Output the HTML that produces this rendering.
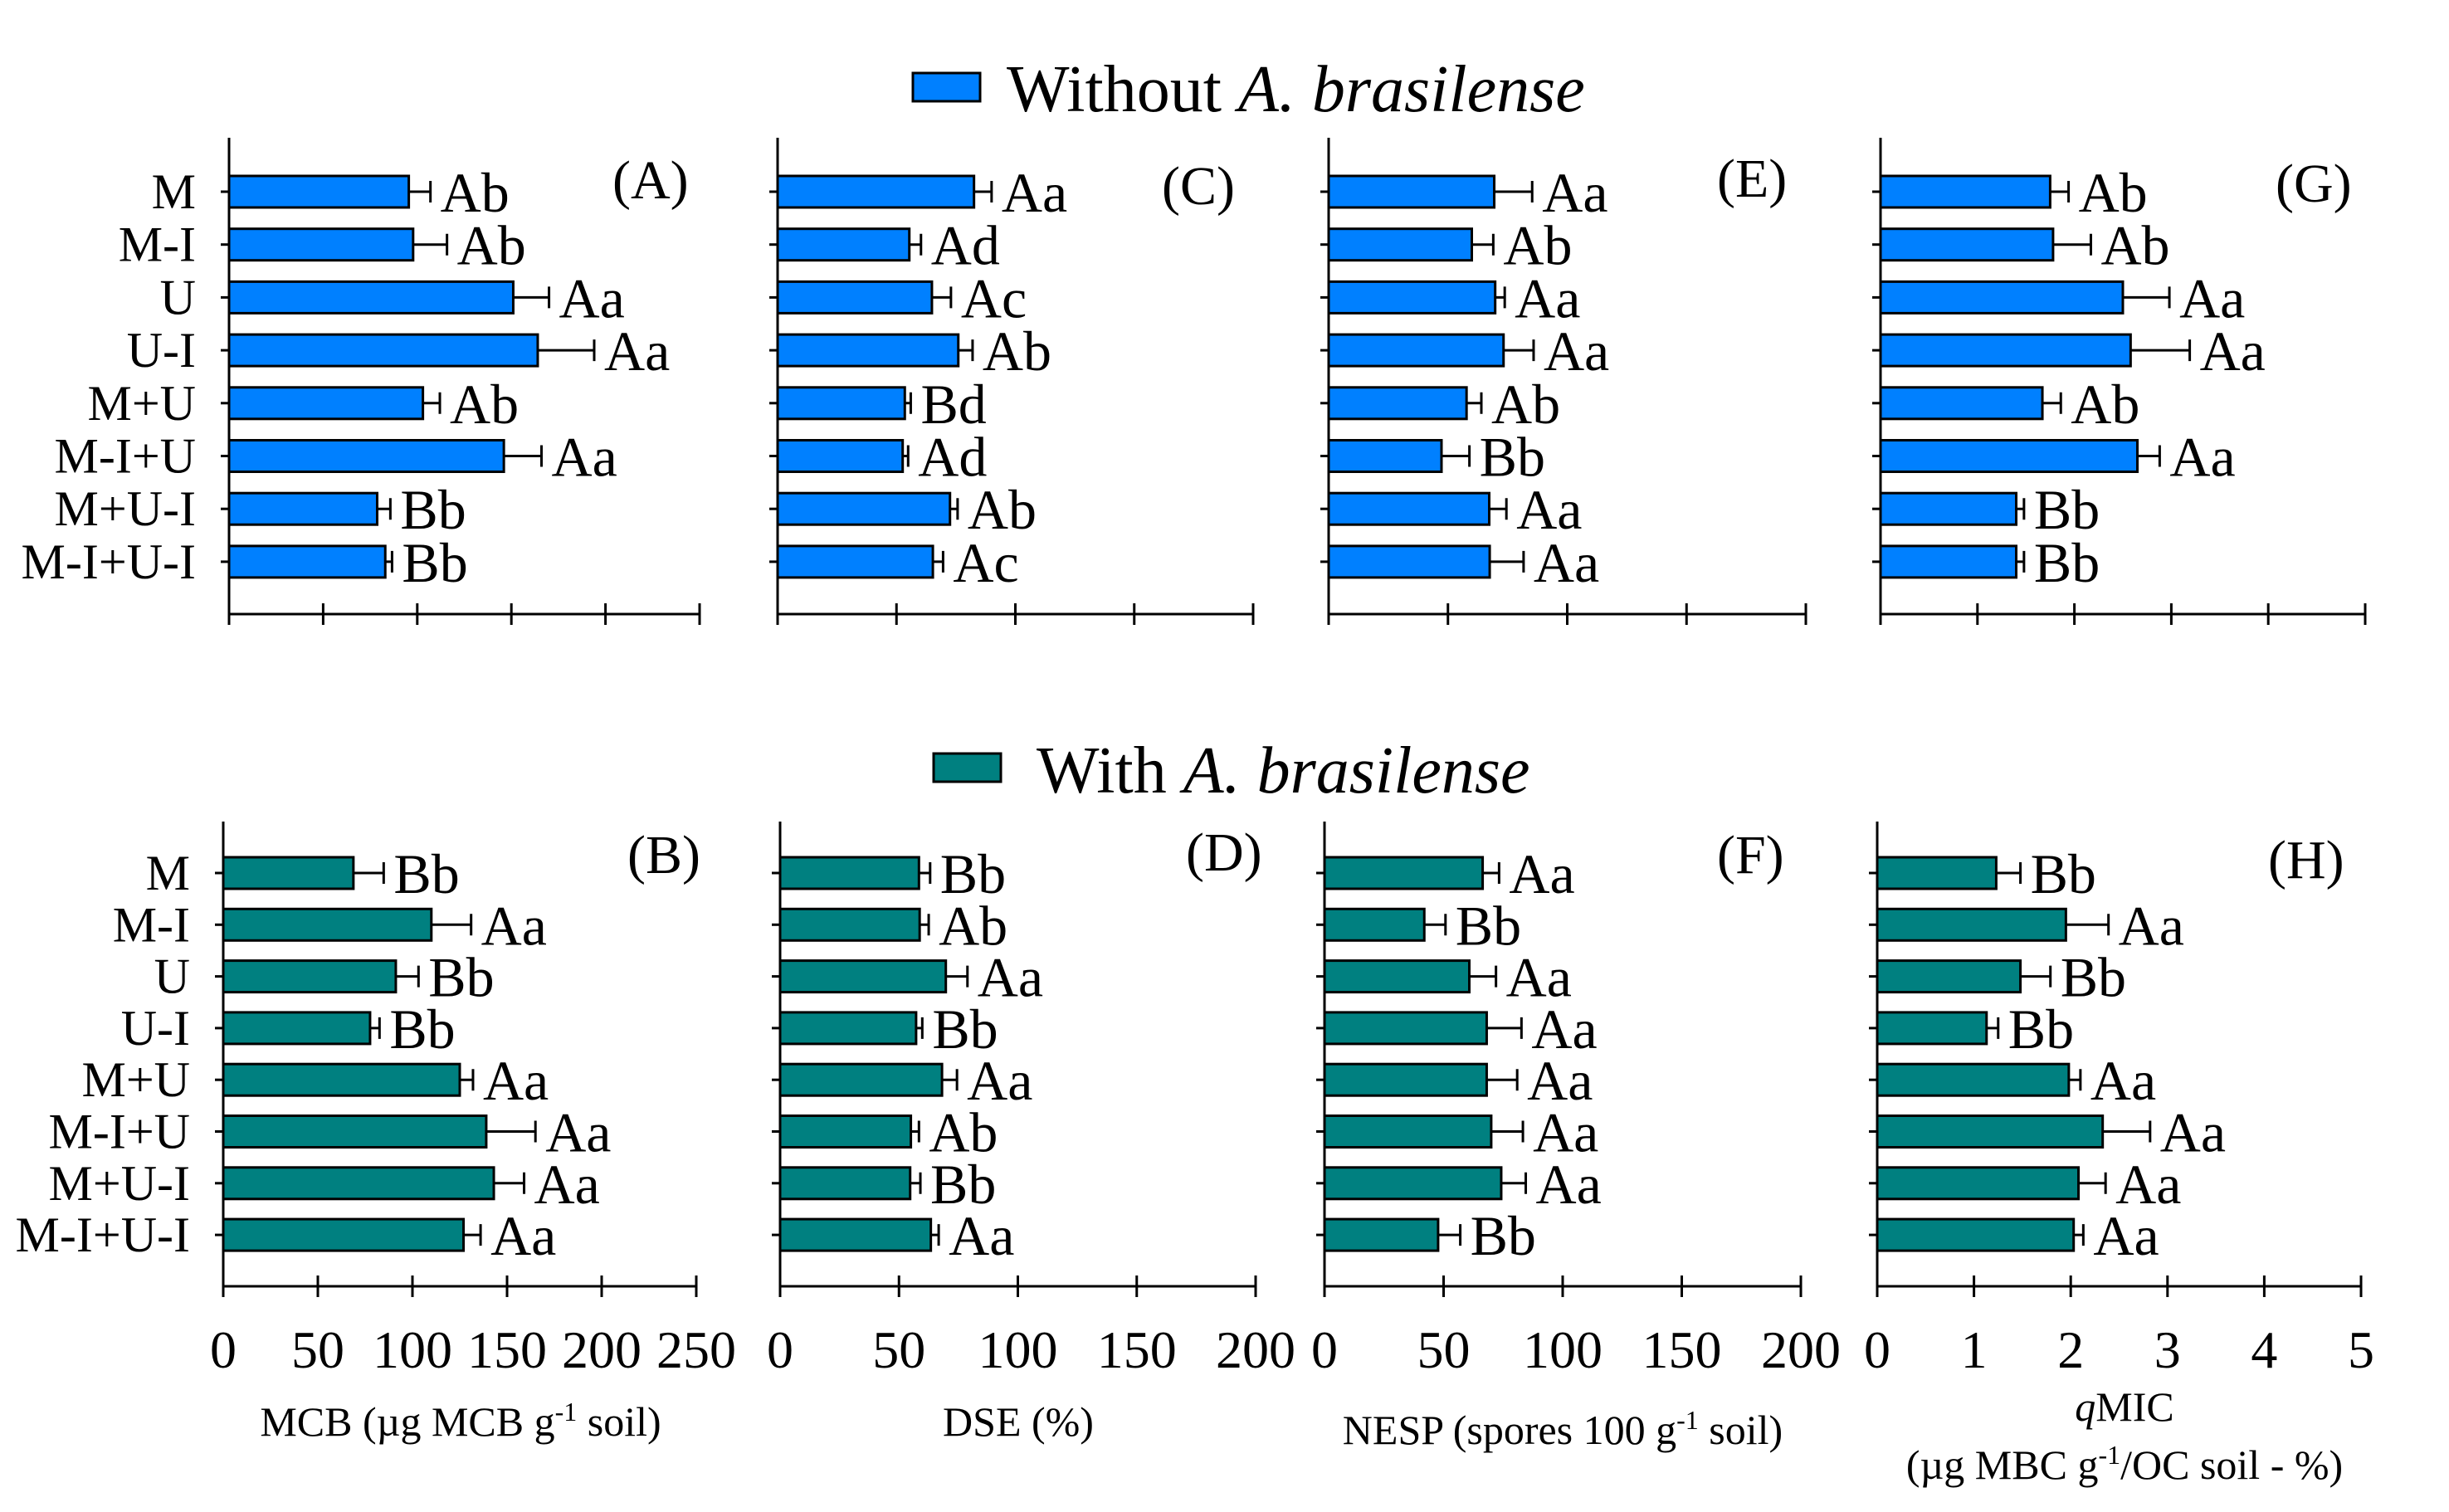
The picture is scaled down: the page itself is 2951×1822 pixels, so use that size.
<!DOCTYPE html>
<html><head><meta charset="utf-8"><style>
html,body{margin:0;padding:0;background:#fff;}
svg{display:block;font-family:"Liberation Serif",serif;}
</style></head><body>
<svg id="chart" width="2951" height="1822" viewBox="0 0 2951 1822" xmlns="http://www.w3.org/2000/svg">
<rect width="2951" height="1822" fill="#fff"/>
<g>
<rect x="1100" y="88" width="81" height="34" fill="#0080FF" stroke="#000" stroke-width="3"/>
<text x="1213" y="134" font-size="80">Without <tspan font-style="italic">A. brasilense</tspan></text>
</g>
<g>
<rect x="1125" y="908" width="81" height="34" fill="#008080" stroke="#000" stroke-width="3"/>
<text x="1249" y="955" font-size="80">With <tspan font-style="italic">A. brasilense</tspan></text>
</g>
<text x="555" y="1730" font-size="50" text-anchor="middle">MCB (µg MCB g<tspan dy="-18" font-size="32">-1</tspan><tspan dy="18"> soil)</tspan></text>
<text x="1227" y="1730" font-size="50" text-anchor="middle">DSE (%)</text>
<text x="1883" y="1740" font-size="50" text-anchor="middle">NESP (spores 100 g<tspan dy="-18" font-size="32">-1</tspan><tspan dy="18"> soil)</tspan></text>
<text x="2560" y="1712" font-size="50" text-anchor="middle"><tspan font-style="italic">q</tspan>MIC</text>
<text x="2560" y="1782" font-size="50" text-anchor="middle">(µg MBC g<tspan dy="-18" font-size="32">-1</tspan><tspan dy="18">/OC soil - %)</tspan></text>
</svg>
<script>
const categories = ["M","M-I","U","U-I","M+U","M-I+U","M+U-I","M-I+U-I"];
const ticksMCB = [0,50,100,150,200,250];
const ticks200 = [0,50,100,150,200];
const ticksQ = [0,1,2,3,4,5];
const valA = [95.5,97.8,151,164,103,146,78.7,83];
const errA = [11.5,18,19,30,9,20,7,3.6];
const letA = ["Ab","Ab","Aa","Aa","Ab","Aa","Bb","Bb"];
const valB = [68.8,110,91.2,77.6,125,139,143,127];
const errB = [16,21,12,5,7,26,16,9];
const letB = ["Bb","Aa","Bb","Bb","Aa","Aa","Aa","Aa"];
const valC = [82.6,55.4,64.9,76,53.5,52.6,72.5,65.3];
const errC = [7.4,4.9,8,6,2.5,2.3,3.2,4.3];
const letC = ["Aa","Ad","Ac","Ab","Bd","Ad","Ab","Ac"];
const valD = [58.4,58.7,69.7,57.2,68.1,55,54.7,63.4];
const errD = [4.7,3.8,9.1,2.6,6.3,3.4,4.3,3.3];
const letD = ["Bb","Ab","Aa","Bb","Aa","Ab","Bb","Aa"];
const valE = [69.4,60,69.8,73.3,57.8,47.3,67.3,67.5];
const errE = [15.9,9,4,12.6,6.2,11.7,7.2,14.2];
const letE = ["Aa","Ab","Aa","Aa","Ab","Bb","Aa","Aa"];
const valF = [66.4,41.9,60.8,68.1,68.1,70,74.2,47.7];
const errF = [6.9,8.9,11.2,14.6,12.8,13.3,10.3,9.3];
const letF = ["Aa","Bb","Aa","Aa","Aa","Aa","Aa","Bb"];
const valG = [1.75,1.78,2.50,2.58,1.67,2.65,1.40,1.40];
const errG = [0.19,0.39,0.48,0.61,0.19,0.23,0.08,0.08];
const letG = ["Ab","Ab","Aa","Aa","Ab","Aa","Bb","Bb"];
const valH = [1.23,1.95,1.48,1.13,1.98,2.33,2.08,2.03];
const errH = [0.25,0.44,0.31,0.12,0.12,0.49,0.28,0.10];
const letH = ["Bb","Aa","Bb","Bb","Aa","Aa","Aa","Aa"];

const NS = "http://www.w3.org/2000/svg";
const svg = document.getElementById('chart');
function mk(tag, attrs, parent){
  const e = document.createElementNS(NS, tag);
  for (const k in attrs) e.setAttribute(k, attrs[k]);
  (parent||svg).appendChild(e);
  return e;
}
const TOP = {axisTop:166, xAxis:740, c0:231, pitch:63.7, color:"#0080FF"};
const BOT = {axisTop:990, xAxis:1550, c0:1052, pitch:62.3, color:"#008080"};
const panels = [
  {id:"a", row:TOP, x0:276, x1:843, max:250, ticks:ticksMCB, vals:valA, errs:errA, lets:letA, label:"(A)", lx:738, ly:239, cats:true},
  {id:"b", row:BOT, x0:269, x1:839, max:250, ticks:ticksMCB, vals:valB, errs:errB, lets:letB, label:"(B)", lx:756, ly:1052, cats:true, tl:true},
  {id:"c", row:TOP, x0:937, x1:1510, max:200, ticks:ticks200, vals:valC, errs:errC, lets:letC, label:"(C)", lx:1400, ly:246},
  {id:"d", row:BOT, x0:940, x1:1513, max:200, ticks:ticks200, vals:valD, errs:errD, lets:letD, label:"(D)", lx:1429, ly:1049, tl:true},
  {id:"e", row:TOP, x0:1601, x1:2176, max:200, ticks:ticks200, vals:valE, errs:errE, lets:letE, label:"(E)", lx:2069, ly:237},
  {id:"f", row:BOT, x0:1596, x1:2170, max:200, ticks:ticks200, vals:valF, errs:errF, lets:letF, label:"(F)", lx:2069, ly:1052, tl:true},
  {id:"g", row:TOP, x0:2266, x1:2850, max:5, ticks:ticksQ, vals:valG, errs:errG, lets:letG, label:"(G)", lx:2742, ly:243},
  {id:"h", row:BOT, x0:2262, x1:2845, max:5, ticks:ticksQ, vals:valH, errs:errH, lets:letH, label:"(H)", lx:2733, ly:1058, tl:true}
];
panels.forEach(p => {
  const r = p.row;
  const g = mk('g', {});
  
  
  const xs = v => p.x0 + (p.x1 - p.x0) * v / p.max;
  const yc = i => r.c0 + i * r.pitch;
  const ya = mk('line', {x1:p.x0, y1:r.axisTop, x2:p.x0, y2:r.xAxis+13, stroke:"#000", "stroke-width":3}, g);
  
  
  const xa = mk('line', {x1:p.x0, y1:r.xAxis, x2:p.x1, y2:r.xAxis, stroke:"#000", "stroke-width":3}, g);
  
  
  p.ticks.forEach(t => {
    const tk = mk('line', {x1:xs(t), y1:r.xAxis-13, x2:xs(t), y2:r.xAxis+13, stroke:"#000", "stroke-width":3}, g);
    
    
    if (p.tl) {
      const tt = mk('text', {x:xs(t), y:1648, "font-size":64, "text-anchor":"middle"}, g);
      tt.textContent = String(t);
      
      
    }
  });
  categories.forEach((c, i) => {
    const y = yc(i);
    const yt = mk('line', {x1:p.x0-10, y1:y, x2:p.x0, y2:y, stroke:"#000", "stroke-width":3}, g);
    
    
    if (p.cats) {
      const ct = mk('text', {x:p.x0-40, y:y+20, "font-size":60, "text-anchor":"end"}, g);
      ct.textContent = c;
      
      
    }
    const v = p.vals[i], e = p.errs[i];
    const bar = mk('rect', {x:p.x0, y:y-19, width:xs(v)-p.x0, height:38, fill:r.color, stroke:"#000", "stroke-width":3}, g);
    
    
    const eb = mk('path', {d:`M${xs(v)},${y} H${xs(v+e)} M${xs(v+e)},${y-13} V${y+13}`, stroke:"#000", "stroke-width":3, fill:"none"}, g);
    
    
    const lt = mk('text', {x:xs(v+e)+12, y:y+24, "font-size":68}, g);
    lt.textContent = p.lets[i];
    
    
  });
  const pl = mk('text', {x:p.lx, y:p.ly, "font-size":66}, g);
  pl.textContent = p.label;
  
  
});
</script>
</body></html>
